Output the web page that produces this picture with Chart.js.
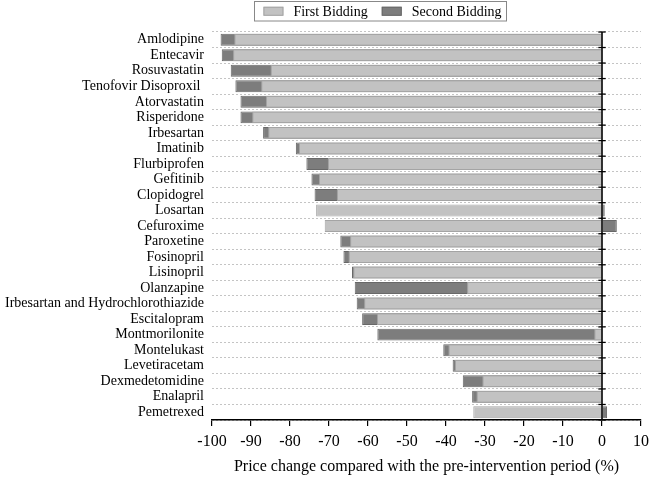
<!DOCTYPE html>
<html>
<head>
<meta charset="utf-8">
<script src="https://cdn.jsdelivr.net/npm/chart.js@4.4.1/dist/chart.umd.min.js"></script>
<style>
  html, body { margin: 0; padding: 0; background: #fff; }
  #wrap { width: 650px; height: 477px; position: relative; }
</style>
</head>
<body>
<div id="wrap"><canvas id="c"></canvas></div>
<script>
const categories = [
  "Amlodipine", "Entecavir", "Rosuvastatin", "Tenofovir Disoproxil ", "Atorvastatin",
  "Risperidone", "Irbesartan", "Imatinib", "Flurbiprofen", "Gefitinib",
  "Clopidogrel", "Losartan", "Cefuroxime", "Paroxetine", "Fosinopril",
  "Lisinopril", "Olanzapine", "Irbesartan and Hydrochlorothiazide", "Escitalopram", "Montmorilonite",
  "Montelukast", "Levetiracetam", "Dexmedetomidine", "Enalapril", "Pemetrexed"
];
const firstBidding = [
  -94.3, -94.6, -85.0, -87.4, -86.2,
  -89.7, -85.6, -77.7, -70.3, -72.6,
  -68.0, -73.3, -71.1, -64.6, -65.0,
  -63.8, -34.6, -61.0, -57.7, -2.0,
  -39.4, -37.7, -30.7, -32.2, -33.0
];
const secondBidding = [
  -97.8, -97.5, -95.2, -94.0, -92.7,
  -92.7, -86.9, -78.5, -75.8, -74.5,
  -73.7, 0.7, 3.8, -67.1, -66.3,
  -64.1, -63.4, -62.9, -61.5, -57.6,
  -40.7, -38.3, -35.7, -33.3, 1.3
];
const xTickValues = [-100, -90, -80, -70, -60, -50, -40, -30, -20, -10, 0, 10];
const seriesNames = ["First Bidding", "Second Bidding"];
const axisTitle = "Price change compared with the pre-intervention period (%)";

const SERIF = "'Liberation Serif', 'Times New Roman', serif";

const zeroLinePlugin = {
  id: 'zeroLine',
  afterDatasetsDraw(chart) {
    const ctx = chart.ctx;
    const x = chart.scales.x.getPixelForValue(0);
    const top = chart.chartArea.top, bottom = chart.chartArea.bottom;
    ctx.save();
    ctx.strokeStyle = '#000';
    ctx.lineWidth = 1.6;
    ctx.beginPath();
    ctx.moveTo(x, top);
    ctx.lineTo(x, bottom);
    ctx.stroke();
    ctx.lineWidth = 1.3;
    const n = categories.length;
    for (let i = 0; i <= n; i++) {
      const y = top + (bottom - top) * i / n;
      ctx.beginPath();
      ctx.moveTo(x - 3.7, y);
      ctx.lineTo(x + 3.7, y);
      ctx.stroke();
    }
    ctx.restore();
  }
};

const legendBoxPlugin = {
  id: 'legendBox',
  afterDraw(chart) {
    const ctx = chart.ctx;
    ctx.save();
    ctx.font = "14px " + SERIF;
    const sw = 20, sh = 9, gap = 10, itemGap = 14, padL = 9, padR = 5;
    const widths = chart.data.datasets.map(d => ctx.measureText(d.label).width);
    let total = padL + padR;
    widths.forEach((w, i) => { total += sw + gap + w + (i > 0 ? itemGap : 0); });
    const cx = 380.5;
    const left = cx - total / 2;
    const top = 1.5, h = 19.5;
    ctx.strokeStyle = '#888';
    ctx.lineWidth = 1;
    ctx.strokeRect(Math.round(left) + 0.5, top, Math.round(total), h);
    let x = left + padL;
    const midY = top + h / 2;
    chart.data.datasets.forEach((d, i) => {
      if (i > 0) x += itemGap;
      ctx.fillStyle = d.backgroundColor;
      ctx.fillRect(x, midY - sh / 2, sw, sh);
      ctx.strokeStyle = d.borderColor;
      ctx.strokeRect(x + 0.5, midY - sh / 2 + 0.5, sw - 1, sh - 1);
      x += sw + gap;
      ctx.fillStyle = '#000';
      ctx.textBaseline = 'middle';
      ctx.textAlign = 'left';
      ctx.fillText(d.label, x, midY + 1);
      x += widths[i];
    });
    ctx.restore();
  }
};

new Chart(document.getElementById('c'), {
  type: 'bar',
  data: {
    labels: categories,
    datasets: [
      {
        label: seriesNames[0],
        data: firstBidding,
        backgroundColor: '#c2c2c2',
        borderColor: '#a4a4a4',
        borderWidth: 1,
        grouped: false,
        categoryPercentage: 1,
        barPercentage: 0.77
      },
      {
        label: seriesNames[1],
        data: secondBidding,
        backgroundColor: '#7d7d7d',
        borderColor: '#686868',
        borderWidth: 1,
        grouped: false,
        categoryPercentage: 1,
        barPercentage: 0.77
      }
    ]
  },
  options: {
    indexAxis: 'y',
    responsive: true,
    maintainAspectRatio: false,
    animation: false,
    devicePixelRatio: 1,
    layout: { padding: { top: 32, right: 9, bottom: 0, left: 0 } },
    plugins: {
      legend: { display: false },
      tooltip: { enabled: false }
    },
    scales: {
      x: {
        type: 'linear',
        min: -100,
        max: 10,
        afterBuildTicks(scale) { scale.ticks = xTickValues.map(v => ({ value: v })); },
        afterFit(scale) {
          scale.height = 57;
          scale.paddingLeft = 0;
          scale.paddingRight = 0;
        },
        grid: {
          drawOnChartArea: false,
          drawTicks: true,
          tickLength: 6,
          color: '#000',
          lineWidth: 1.2
        },
        border: { display: true, color: '#000', width: 1.5 },
        ticks: {
          color: '#000',
          padding: 6,
          maxRotation: 0,
          autoSkip: false,
          font: { family: SERIF, size: 16 }
        },
        title: {
          display: true,
          text: axisTitle,
          color: '#000',
          font: { family: SERIF, size: 16 },
          padding: { top: 2, bottom: 1 }
        }
      },
      y: {
        type: 'category',
        afterFit(scale) { scale.width = 212; },
        grid: {
          offset: true,
          drawTicks: false,
          color: '#c4c4c4',
          lineWidth: 1
        },
        border: { display: false, dash: [2, 2] },
        ticks: {
          color: '#000',
          padding: 8,
          autoSkip: false,
          font: { family: SERIF, size: 14 }
        }
      }
    }
  },
  plugins: [zeroLinePlugin, legendBoxPlugin]
});
</script>
</body>
</html>
